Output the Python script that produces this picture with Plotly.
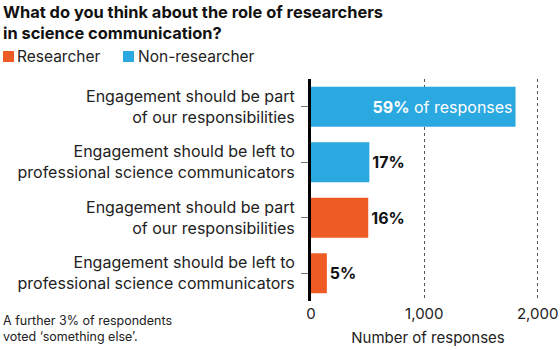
import plotly.graph_objects as go

# ---- data ----
categories = [
    "Engagement should be part<br>of our responsibilities",
    "Engagement should be left to<br>professional science communicators",
    "Engagement should be part<br>of our responsibilities",
    "Engagement should be left to<br>professional science communicators",
]
groups = ["Non-researcher", "Non-researcher", "Researcher", "Researcher"]
responses = [1805, 515, 505, 140]
percent_labels = ["59%", "17%", "16%", "5%"]
x_ticks = [0, 1000, 2000]

colors = {"Researcher": "#EF5B25", "Non-researcher": "#2AA8E0"}
FONT = "Inter"

L, R, T, B = 311, 15, 79, 49
PW, PH = 560 - L - R, 350 - T - B

pos = list(range(len(categories)))

fig = go.Figure()
for g in ["Non-researcher", "Researcher"]:
    idx = [i for i in pos if groups[i] == g]
    texts, tpos, tcol = [], [], []
    for i in idx:
        if i == 0:
            texts.append(f"<b>{percent_labels[i]}</b> of responses")
            tpos.append("inside")
            tcol.append("white")
        else:
            texts.append(f"<b>{percent_labels[i]}</b>")
            tpos.append("outside")
            tcol.append("#111111")
    fig.add_trace(go.Bar(
        x=[responses[i] for i in idx],
        y=idx,
        orientation="h",
        name=g,
        marker=dict(color=colors[g], line=dict(width=0)),
        text=texts,
        textposition=tpos,
        insidetextanchor="end",
        textfont=dict(family=FONT, size=16, color=tcol),
        cliponaxis=False,
        showlegend=False,
        hoverinfo="skip",
    ))

fig.update_layout(
    width=560, height=350,
    margin=dict(l=L, r=R, t=T, b=B, autoexpand=False),
    paper_bgcolor="white", plot_bgcolor="white",
    bargap=0.28,
    font=dict(family=FONT, size=15, color="#222222"),
)
fig.update_xaxes(
    range=[0, 2065], tickvals=x_ticks, tickformat=",",
    showgrid=True, gridcolor="#555555", griddash="dot", gridwidth=1.2,
    zeroline=False, showline=False, ticks="",
    tickfont=dict(family=FONT, size=15, color="#222222"),
    ticklabelstandoff=2,
    title=dict(text="Number of responses", font=dict(family=FONT, size=15, color="#222222"), standoff=10),
    automargin=False,
    fixedrange=True,
)
fig.update_yaxes(
    range=[3.5, -0.5], tickvals=pos, ticktext=categories,
    showline=True, linecolor="black", linewidth=3,
    ticks="outside", ticklen=7, tickcolor="#777777", tickwidth=1,
    showgrid=False, zeroline=False,
    tickfont=dict(family=FONT, size=16, color="#222222"),
    ticklabelstandoff=3,
    automargin=False,
    fixedrange=True,
)

def px_x(px):
    return (px - L) / PW
def px_y(py):
    return (350 - B - py) / PH

# title
fig.add_annotation(
    text="<b>What do you think about the role of researchers<br>in science communication?</b>",
    xref="paper", yref="paper", x=px_x(1), y=px_y(0), xanchor="left", yanchor="top",
    showarrow=False, align="left",
    font=dict(family=FONT, size=16.4, color="#111111"),
)

# legend (manual)
legend_items = [("Researcher", 3, 17), ("Non-researcher", 123, 138)]
for name, sx, tx in legend_items:
    fig.add_shape(type="rect", xref="paper", yref="paper",
                  x0=px_x(sx), x1=px_x(sx + 11), y0=px_y(62), y1=px_y(51),
                  fillcolor=colors[name], line=dict(width=0))
    fig.add_annotation(text=name, xref="paper", yref="paper",
                       x=px_x(tx - 2), y=px_y(56.5), xanchor="left", yanchor="middle",
                       showarrow=False, font=dict(family=FONT, size=15.5, color="#222222"))

# footnote
fig.add_annotation(
    text="A further 3% of respondents<br>voted ‘something else’.",
    xref="paper", yref="paper", x=px_x(1), y=px_y(311), xanchor="left", yanchor="top",
    showarrow=False, align="left",
    font=dict(family=FONT, size=12.5, color="#222222"),
)

fig.write_html("out.html", config={"displayModeBar": False},
               post_script="document.body.style.margin='0';document.body.style.overflow='hidden';")
